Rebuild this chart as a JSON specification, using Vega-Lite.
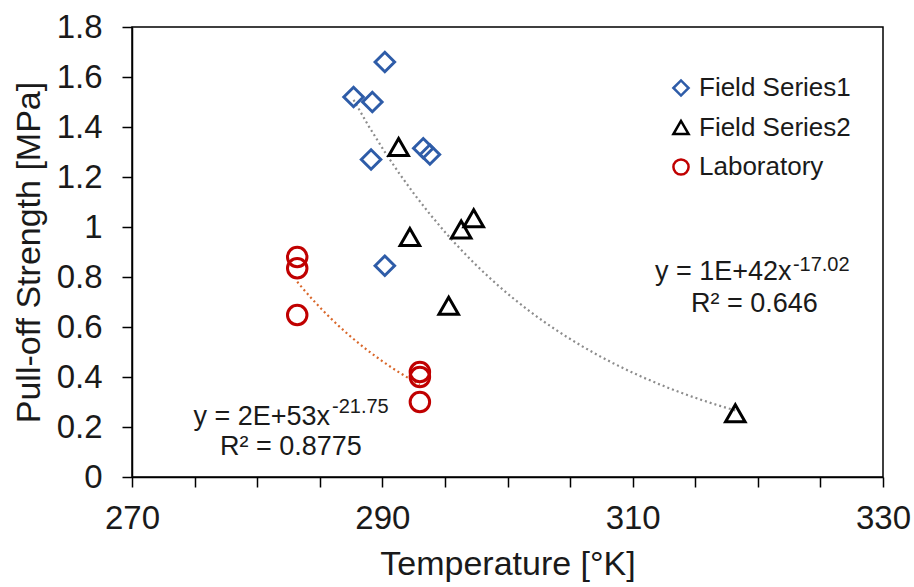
{
  "$schema": "https://vega.github.io/schema/vega-lite/v6.json",
  "width": 751,
  "height": 450,
  "autosize": {"type": "none"},
  "padding": {"left": 132, "top": 27, "right": 31, "bottom": 110},
  "background": "white",
  "config": {
    "view": {"stroke": "#000", "strokeWidth": 1.5},
    "font": "Liberation Sans",
    "axis": {
      "grid": false,
      "domainColor": "#000",
      "domainWidth": 1.5,
      "tickColor": "#000",
      "tickWidth": 1.5,
      "tickSize": 10,
      "labelColor": "#1a1a1a",
      "titleColor": "#1a1a1a",
      "labelFont": "Liberation Sans",
      "titleFont": "Liberation Sans",
      "titleFontWeight": "normal",
      "labelFontSize": 33,
      "titleFontSize": 34,
      "labelFlush": false
    },
    "legend": {
      "orient": "none",
      "legendX": 536,
      "legendY": 48,
      "padding": 0,
      "labelFont": "Liberation Sans",
      "labelFontSize": 26,
      "labelColor": "#1a1a1a",
      "symbolStrokeWidth": 2.5,
      "symbolSize": 230,
      "rowPadding": 13.5,
      "labelOffset": 5
    }
  },
  "datasets": {
    "points": [
      {"series": "Field Series1", "x": 290.2, "y": 1.66},
      {"series": "Field Series1", "x": 287.7, "y": 1.52},
      {"series": "Field Series1", "x": 289.2, "y": 1.5},
      {"series": "Field Series1", "x": 289.1, "y": 1.27},
      {"series": "Field Series1", "x": 293.27, "y": 1.315},
      {"series": "Field Series1", "x": 293.8, "y": 1.29},
      {"series": "Field Series1", "x": 290.2, "y": 0.845},
      {"series": "Field Series2", "x": 291.3, "y": 1.32},
      {"series": "Field Series2", "x": 292.2, "y": 0.96},
      {"series": "Field Series2", "x": 296.3, "y": 0.99},
      {"series": "Field Series2", "x": 297.3, "y": 1.035},
      {"series": "Field Series2", "x": 295.3, "y": 0.685},
      {"series": "Field Series2", "x": 318.2, "y": 0.255},
      {"series": "Laboratory", "x": 283.2, "y": 0.88},
      {"series": "Laboratory", "x": 283.2, "y": 0.835},
      {"series": "Laboratory", "x": 283.2, "y": 0.648},
      {"series": "Laboratory", "x": 293.0, "y": 0.42},
      {"series": "Laboratory", "x": 293.0, "y": 0.4},
      {"series": "Laboratory", "x": 293.0, "y": 0.3}
    ],
    "notes": [
      {"part": "eq", "x": 322.7, "y": 0.788, "label": "y = 1E+42x"},
      {"part": "sup", "x": 322.8, "y": 0.824, "label": "-17.02"},
      {"part": "r2", "x": 319.73, "y": 0.66, "label": "R² = 0.646"},
      {"part": "eq", "x": 285.82, "y": 0.208, "label": "y = 2E+53x"},
      {"part": "sup", "x": 285.98, "y": 0.256, "label": "-21.75"},
      {"part": "r2", "x": 282.7, "y": 0.088, "label": "R² = 0.8775"}
    ]
  },
  "encoding": {
    "x": {
      "field": "x",
      "type": "quantitative",
      "scale": {"domain": [270, 330], "nice": false, "zero": false},
      "axis": {
        "title": "Temperature [°K]",
        "values": [270, 275, 280, 285, 290, 295, 300, 305, 310, 315, 320, 325, 330],
        "labelExpr": "datum.value % 20 == 10 ? datum.label : ''",
        "labelAlign": "center",
        "labelPadding": 15,
        "titlePadding": 12
      }
    },
    "y": {
      "field": "y",
      "type": "quantitative",
      "scale": {"domain": [0, 1.8], "nice": false},
      "axis": {
        "title": "Pull-off Strength [MPa]",
        "values": [0, 0.2, 0.4, 0.6, 0.8, 1, 1.2, 1.4, 1.6, 1.8],
        "format": "~g",
        "labelPadding": 20,
        "titlePadding": 10
      }
    }
  },
  "layer": [
    {
      "data": {"name": "points"},
      "transform": [
        {"filter": "datum.series != 'Laboratory'"},
        {"regression": "y", "on": "x", "method": "pow"}
      ],
      "mark": {"type": "line", "color": "#8C8C8C", "strokeDash": [2, 3], "strokeWidth": 2.2}
    },
    {
      "data": {"name": "points"},
      "transform": [
        {"filter": "datum.series == 'Laboratory'"},
        {"regression": "y", "on": "x", "method": "pow"}
      ],
      "mark": {"type": "line", "color": "#D9672A", "strokeDash": [2, 3], "strokeWidth": 2.2}
    },
    {
      "data": {"name": "points"},
      "mark": {"type": "point", "filled": false, "strokeWidth": 3, "size": 380, "opacity": 1},
      "encoding": {
        "shape": {
          "field": "series",
          "type": "nominal",
          "scale": {"domain": ["Field Series1", "Field Series2", "Laboratory"], "range": ["diamond", "triangle-up", "circle"]},
          "legend": {"title": null}
        },
        "color": {
          "field": "series",
          "type": "nominal",
          "scale": {"domain": ["Field Series1", "Field Series2", "Laboratory"], "range": ["#2E5CA8", "#000000", "#C00000"]},
          "legend": {"title": null}
        }
      }
    },
    {
      "data": {"name": "notes"},
      "transform": [{"filter": "datum.part == 'eq'"}],
      "mark": {"type": "text", "align": "right", "baseline": "alphabetic", "fontSize": 27, "color": "#1a1a1a", "font": "Liberation Sans"},
      "encoding": {"text": {"field": "label"}}
    },
    {
      "data": {"name": "notes"},
      "transform": [{"filter": "datum.part == 'sup'"}],
      "mark": {"type": "text", "align": "left", "baseline": "alphabetic", "fontSize": 20, "color": "#1a1a1a", "font": "Liberation Sans"},
      "encoding": {"text": {"field": "label"}}
    },
    {
      "data": {"name": "notes"},
      "transform": [{"filter": "datum.part == 'r2'"}],
      "mark": {"type": "text", "align": "center", "baseline": "alphabetic", "fontSize": 27, "color": "#1a1a1a", "font": "Liberation Sans"},
      "encoding": {"text": {"field": "label"}}
    }
  ]
}
